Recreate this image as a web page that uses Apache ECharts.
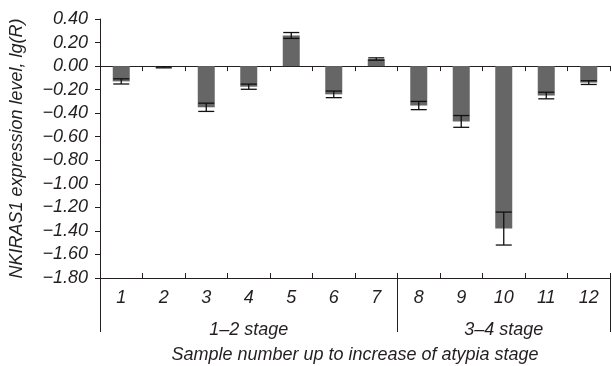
<!DOCTYPE html>
<html lang="en">
<head>
    <meta charset="UTF-8">
    <title>NKIRAS1 expression level</title>
    <script src="https://cdn.jsdelivr.net/npm/echarts@6.0.0/dist/echarts.min.js"></script>
    <style>
        html, body { margin: 0; padding: 0; background: #fff; }
        #chart { width: 612px; height: 366px; }
    </style>
</head>
<body>
    <div id="chart"></div>
    <script>
    // sample numbers, mean lg(R) and error
    var samples = ['1', '2', '3', '4', '5', '6', '7', '8', '9', '10', '11', '12'];
    var values = [-0.13, -0.01, -0.35, -0.175, 0.26, -0.24, 0.06, -0.335, -0.47, -1.38, -0.25, -0.14];
    var errors = [0.022, 0.005, 0.035, 0.022, 0.025, 0.028, 0.01, 0.035, 0.05, 0.14, 0.028, 0.016];

    // groups of samples by atypia stage
    var stageNames = ['1\u20132 stage', '3\u20134 stage'];
    var stageSizes = [7, 5];

    var font = 'Liberation Sans Narrow, Liberation Sans, Arial, sans-serif';
    var ink = '#231f20';

    // labels for the stage axis sit at the middle category of each group,
    // ticks at each group start (the end tick is added by echarts)
    var stageData = samples.map(function () { return ''; });
    var stageStarts = [];
    var start = 0;
    stageSizes.forEach(function (n, i) {
        stageStarts.push(start);
        stageData[start + Math.floor((n - 1) / 2)] = stageNames[i];
        start += n;
    });

    var errorData = values.map(function (v, i) { return [i, v, errors[i]]; });

    var chart = echarts.init(document.getElementById('chart'));

    var textStyle = { fontFamily: font, fontStyle: 'italic', fontSize: 18, color: ink };

    var option = {
        animation: false,
        grid: { left: 100, right: 2, top: 19, bottom: 88, containLabel: false, outerBoundsMode: 'none' },
        xAxis: [
            {
                // axis line through zero, ticks pointing down
                type: 'category',
                data: samples,
                position: 'bottom',
                axisLine: { onZero: true, lineStyle: { color: ink, width: 1 } },
                axisTick: { show: true, length: 5, inside: false, lineStyle: { color: ink } },
                axisLabel: { show: false },
                splitLine: { show: false }
            },
            {
                // bottom axis with sample numbers
                type: 'category',
                data: samples,
                position: 'bottom',
                axisLine: { onZero: false, lineStyle: { color: ink, width: 1 } },
                axisTick: { show: true, length: 5, inside: true, lineStyle: { color: ink } },
                axisLabel: Object.assign({ margin: 11, interval: 0 }, textStyle),
                splitLine: { show: false }
            },
            {
                // stage groups
                type: 'category',
                data: stageData,
                position: 'bottom',
                axisLine: { show: false, onZero: false },
                axisTick: {
                    show: true, length: 54, inside: false,
                    interval: function (idx) { return stageStarts.indexOf(idx) >= 0; },
                    lineStyle: { color: ink }
                },
                axisLabel: Object.assign({ margin: 43, interval: 0 }, textStyle),
                name: 'Sample number up to increase of atypia stage',
                nameLocation: 'middle',
                nameGap: 68,
                nameTextStyle: textStyle,
                splitLine: { show: false }
            }
        ],
        yAxis: {
            type: 'value',
            min: -1.8,
            max: 0.4,
            interval: 0.2,
            name: 'NKIRAS1 expression level, lg(R)',
            nameLocation: 'middle',
            nameGap: 74,
            nameTextStyle: textStyle,
            axisLine: { show: true, lineStyle: { color: ink, width: 1 } },
            axisTick: { show: true, length: 5, inside: false, lineStyle: { color: ink } },
            axisLabel: Object.assign({
                margin: 12,
                formatter: function (v) {
                    var s = Math.abs(v).toFixed(2);
                    return (v < -1e-9 ? '\u2212' : '') + s;
                }
            }, textStyle),
            splitLine: { show: false }
        },
        series: [
            {
                type: 'bar',
                data: values,
                xAxisIndex: 0,
                barWidth: 17,
                itemStyle: { color: '#666666' }
            },
            {
                type: 'custom',
                xAxisIndex: 0,
                data: errorData,
                z: 5,
                renderItem: function (params, api) {
                    var x = api.value(0);
                    var v = api.value(1);
                    var e = api.value(2);
                    var hi = api.coord([x, v + e]);
                    var lo = api.coord([x, v - e]);
                    var hw = 8;
                    var style = { stroke: '#111', lineWidth: 1.3 };
                    return {
                        type: 'group',
                        children: [
                            { type: 'line', shape: { x1: hi[0], y1: hi[1], x2: lo[0], y2: lo[1] }, style: style },
                            { type: 'line', shape: { x1: hi[0] - hw, y1: hi[1], x2: hi[0] + hw, y2: hi[1] }, style: style },
                            { type: 'line', shape: { x1: lo[0] - hw, y1: lo[1], x2: lo[0] + hw, y2: lo[1] }, style: style }
                        ]
                    };
                }
            }
        ]
    };

    chart.setOption(option);
    </script>
</body>
</html>
